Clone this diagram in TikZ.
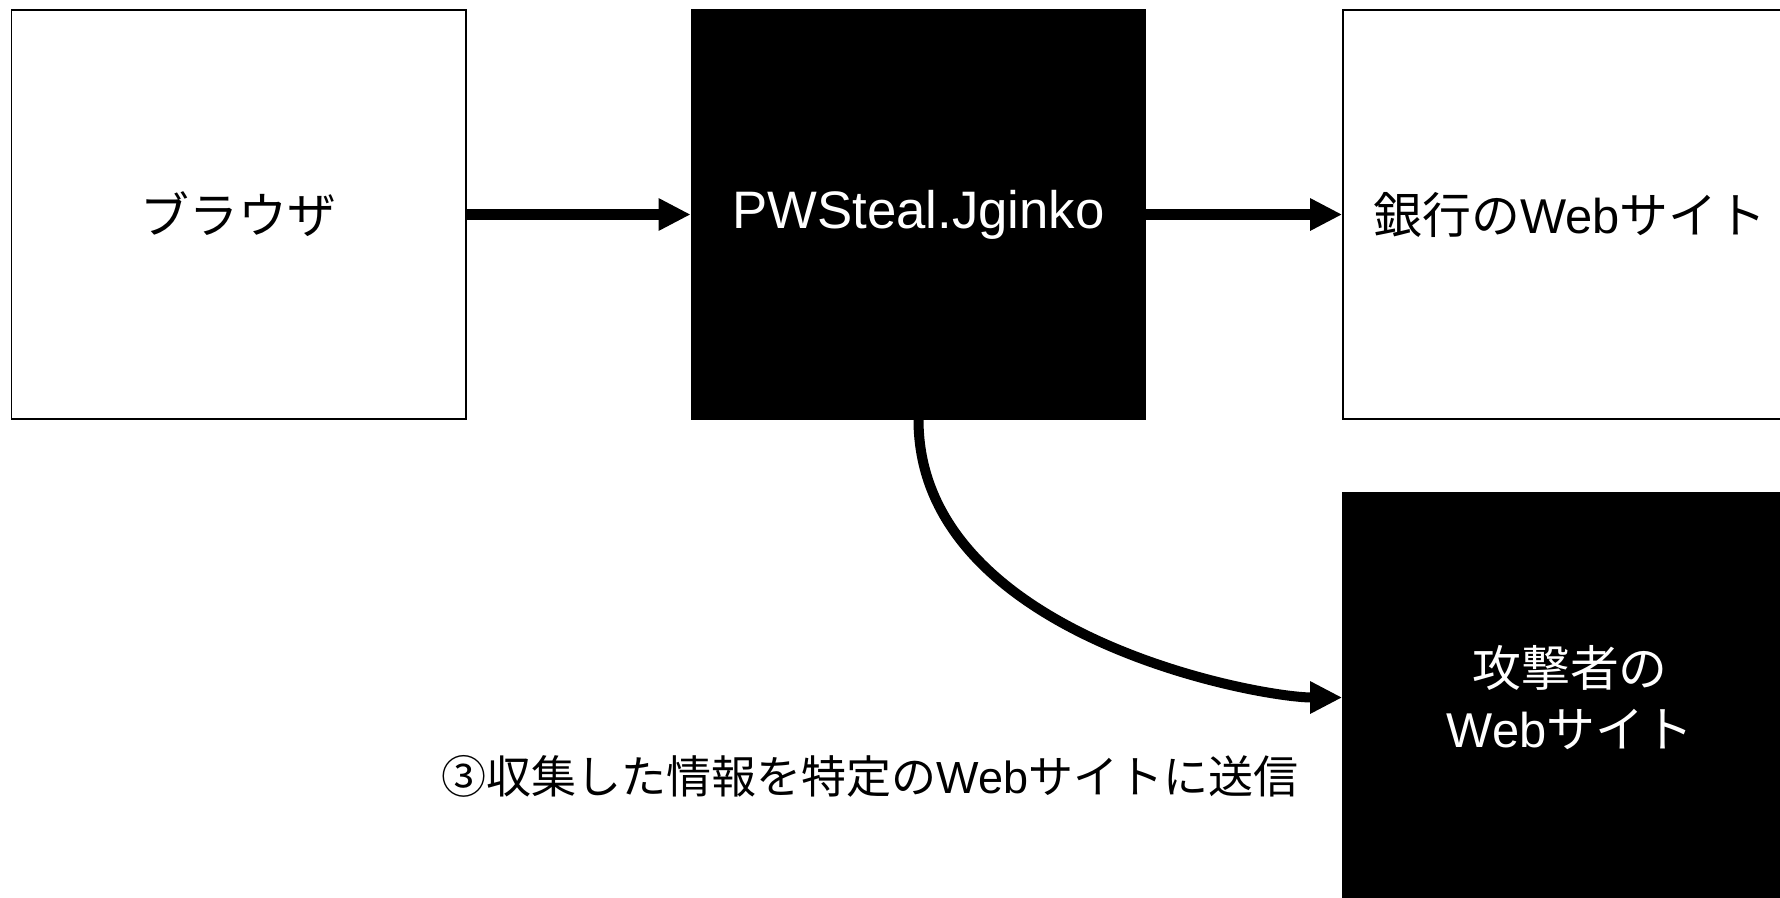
\documentclass[tikz,border=0pt]{standalone}
\usepackage{fontspec}
\setmainfont{Liberation Sans}
\newfontfamily\cjk{Noto Sans CJK JP}
\usetikzlibrary{arrows.meta}
\tikzset{
  box/.style={draw=black, line width=0.4pt, minimum width=4.54cm, minimum height=4.09cm, inner sep=0pt, align=center},
  wbox/.style={box, fill=white, text=black},
  bbox/.style={box, fill=black, text=white},
  mainfont/.style={font=\fontsize{13.9}{17.1}\selectfont},
  conn/.style={line width=2.85pt, -{Triangle[length=9.1pt, width=8.6pt]}},
  lbl/.style={inner sep=0pt, font=\fontsize{12.8}{15}\selectfont}
}
\begin{document}
\begin{tikzpicture}[x=0.01cm, y=-0.01cm]
\useasboundingbox (0,0) rectangle (1780,897);
\clip (0,0) rectangle (1780,897);
\node[wbox, mainfont] (b1) at (238.7,214.5) {{\cjk ブラウザ}};
\node[bbox, mainfont, font=\fontsize{15}{18}\selectfont] (b2) at (918.5,214.5) {PWSteal.Jginko};
\node[wbox, mainfont] (b3) at (1570,214.5) {{\cjk 銀行の}Web{\cjk サイト}};
\node[bbox, mainfont] (b4) at (1570,697.5) {{\cjk 攻撃者の}\\Web{\cjk サイト}};
\draw[conn] (b1.east) -- (b2.west);
\draw[conn] (b2.east) -- (b3.west);
\draw[conn] (b2.south) .. controls +(0,215) and +(-85,0) .. (b4.west);
\node[lbl] (lab) at (870,776) {{\cjk ③収集した情報を特定の}Web{\cjk サイトに送信}};
\end{tikzpicture}
\end{document}
